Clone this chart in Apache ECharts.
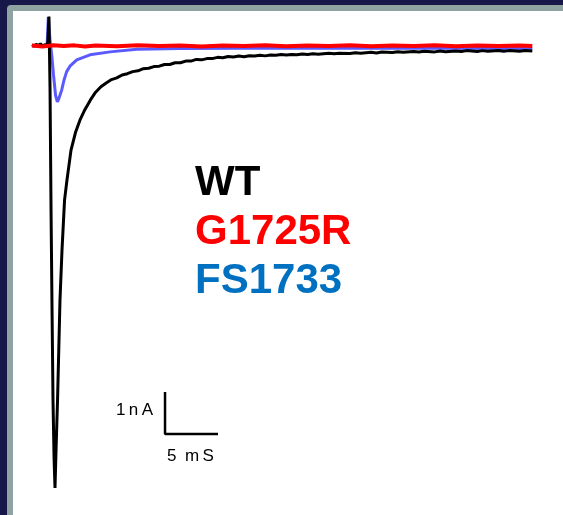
<!DOCTYPE html>
<html>
<head>
<meta charset="utf-8">
<script src="https://cdn.jsdelivr.net/npm/echarts@6/dist/echarts.min.js"></script>
<style>
  html, body { margin: 0; padding: 0; background: #17174a; }
  #chart { width: 563px; height: 515px; }
</style>
</head>
<body>
<div id="chart"></div>
<script>
// traces: [time (ms), current (nA)]
const wtTrace = [
  [0, 0.03], [0.2, 0.0], [0.4, 0.04], [0.6, 0.01], [0.8, 0.05], [1.0, 0.0],
  [1.2, 0.03], [1.4, 0.01], [1.5, 0.1], [1.6, 0.7], [1.7, -1.0], [1.8, -4.0],
  [1.9, -6.5], [1.98, -8.4], [2.08, -9.8], [2.17, -10.52], [2.27, -9.6],
  [2.41, -8.43], [2.64, -6.05], [2.83, -4.86], [3.07, -3.67], [3.3, -3.19],
  [3.68, -2.48], [4.1, -2.06], [4.53, -1.76], [5.0, -1.51], [5.5, -1.29],
  [6.0, -1.1], [6.5, -0.97], [7.0, -0.88], [7.5, -0.8], [8.0, -0.76],
  [8.5, -0.69], [9.0, -0.66], [9.5, -0.61], [10.0, -0.59], [10.5, -0.54],
  [11.0, -0.53], [11.5, -0.49], [12.0, -0.48], [12.5, -0.44], [13.0, -0.44],
  [13.5, -0.4], [14.0, -0.4], [14.5, -0.36], [15.0, -0.36], [15.5, -0.32],
  [16.0, -0.33], [16.5, -0.3], [17.0, -0.3], [17.5, -0.27], [18.0, -0.28],
  [18.5, -0.25], [19.0, -0.26], [19.5, -0.24], [20.0, -0.255], [20.5, -0.23],
  [21.0, -0.24], [21.5, -0.22], [22.0, -0.235], [22.5, -0.215], [23.0, -0.22],
  [23.5, -0.205], [24.0, -0.215], [24.5, -0.2], [25.0, -0.21], [25.5, -0.19],
  [26.0, -0.2], [26.5, -0.185], [27.0, -0.195], [28.0, -0.175], [28.5, -0.185],
  [29.0, -0.17], [30.0, -0.18], [30.5, -0.16], [31.0, -0.17], [32.0, -0.15],
  [32.5, -0.165], [33.0, -0.145], [34.0, -0.155], [34.5, -0.135], [35.0, -0.15],
  [36.0, -0.13], [36.5, -0.145], [37.0, -0.125], [38.0, -0.14], [38.5, -0.12],
  [39.0, -0.135], [40.0, -0.12], [40.5, -0.13], [41.0, -0.11], [42.0, -0.13],
  [42.5, -0.11], [43.0, -0.125], [44.0, -0.105], [44.5, -0.125], [45.0, -0.11],
  [46.0, -0.125], [46.5, -0.105], [47.2, -0.12]
];

const g1725rTrace = [
  [0, 0.01], [1, -0.01], [2, 0.02], [3, 0.0], [4, 0.015], [5, -0.01], [6, 0.01],
  [8, -0.005], [10, 0.015], [12, 0.0], [14, 0.01], [16, -0.01], [18, 0.01],
  [20, 0.0], [22, 0.015], [24, -0.005], [26, 0.01], [28, 0.0], [30, 0.015],
  [32, -0.005], [34, 0.01], [36, 0.0], [38, 0.015], [40, -0.005], [42, 0.01],
  [44, 0.0], [46, 0.01], [47.2, 0.0]
];

const fs1733Trace = [
  [0, 0.0], [1.0, 0.0], [1.42, 0.0], [1.54, 0.69], [1.7, 0.14], [1.86, -0.21],
  [2.03, -0.69], [2.22, -1.17], [2.39, -1.33], [2.55, -1.24], [2.8, -1.05],
  [3.02, -0.81], [3.27, -0.61], [3.58, -0.48], [4.22, -0.33], [5.47, -0.21],
  [7.36, -0.14], [9.88, -0.08], [13.96, -0.06], [25.3, -0.05], [47.2, -0.06]
];

// scale bar: 5 ms x 1 nA
const scaleBar = [[12.55, -8.24], [12.55, -9.24], [17.55, -9.24]];

const traceNames = ["WT", "G1725R", "FS1733"];
const labelColors = ["#000000", "#ff0000", "#0070c0"];

const chart = echarts.init(document.getElementById("chart"));

function trace(data, color, width) {
  return {
    type: "line",
    data: data,
    symbol: "none",
    silent: true,
    lineStyle: { color: color, width: width },
    z: 3,
  };
}

const labelFont = "17px 'Liberation Sans', Arial, sans-serif";

chart.setOption({
  animation: false,
  backgroundColor: "#17174a",
  grid: { left: 32, right: 1, top: 4, bottom: 7 },
  xAxis: { type: "value", min: 0, max: 50, show: false },
  yAxis: { type: "value", min: -11, max: 1, show: false },
  graphic: [
    { type: "rect", z: -2, shape: { x: 7, y: 5, width: 556, height: 510, r: [4, 0, 0, 0] }, style: { fill: "#8fa3a3" } },
    { type: "rect", z: -1, shape: { x: 13, y: 11, width: 550, height: 504 }, style: { fill: "#ffffff" } },
    ...traceNames.map((name, i) => ({
      type: "text",
      z: 10,
      left: 195,
      top: 162 + i * 49,
      style: {
        text: name,
        fill: labelColors[i],
        font: "bold 42px 'Liberation Sans', Arial, sans-serif",
      },
    })),
    {
      type: "text", z: 10, left: 116, top: 402,
      style: { text: "1\u2009n\u2009A", fill: "#000", font: labelFont },
    },
    {
      type: "text", z: 10, left: 167, top: 448,
      style: { text: "5\u2002m\u2009S", fill: "#000", font: labelFont },
    },
  ],
  series: [
    trace(fs1733Trace, "#5a5aff", 3),
    trace(wtTrace, "#000000", 3),
    trace(g1725rTrace, "#ff0000", 4),
    trace(scaleBar, "#000000", 2.5),
  ],
});
</script>
</body>
</html>
